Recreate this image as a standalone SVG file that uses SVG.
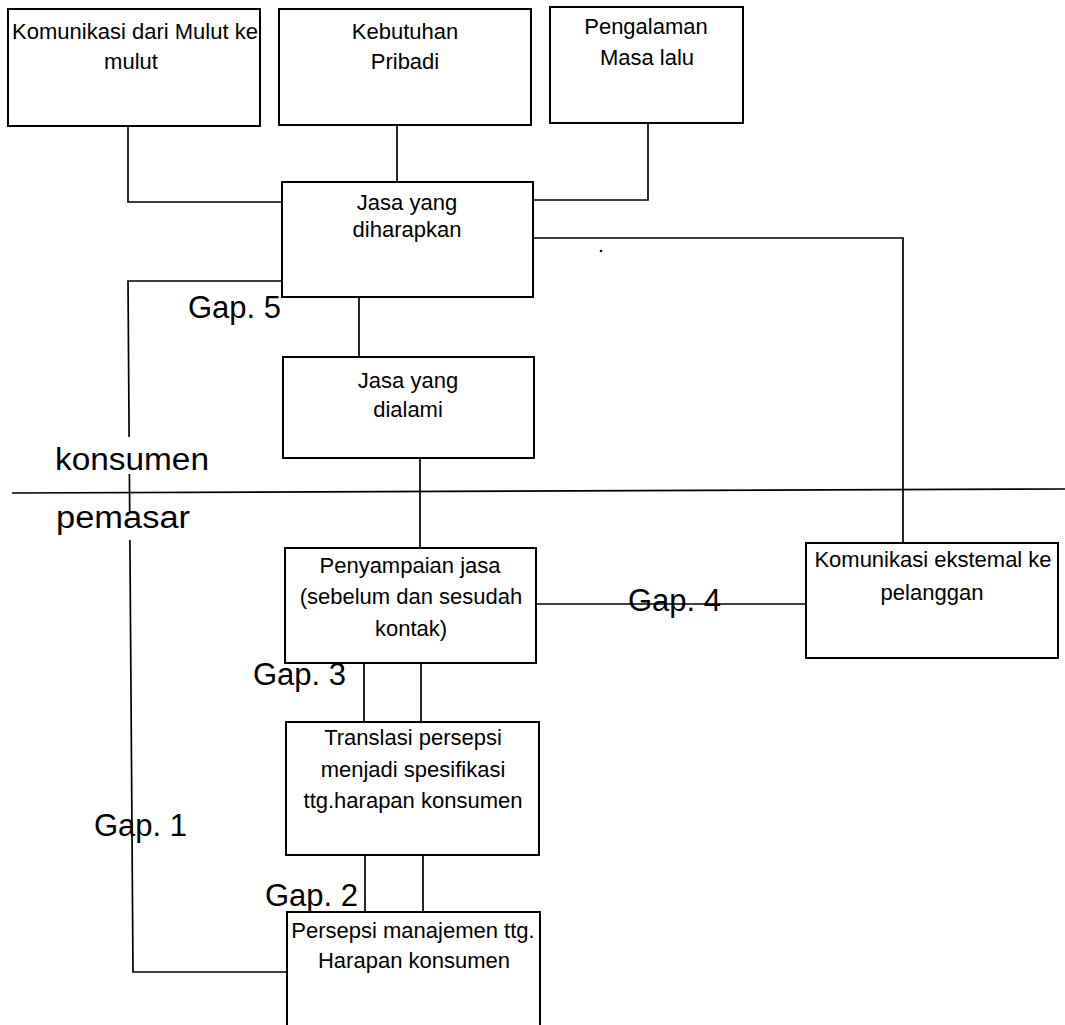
<svg xmlns="http://www.w3.org/2000/svg" width="1065" height="1025" viewBox="0 0 1065 1025">
<style>
.box{fill:#fff;stroke:#000;stroke-width:2}
.ln{fill:none;stroke:#000;stroke-width:1.7}
.t{font-family:"Liberation Sans",Arial,sans-serif;font-size:22px;fill:#000;text-anchor:middle}
.g{font-family:"Liberation Sans",Arial,sans-serif;font-size:31px;fill:#000}
</style>
<rect width="1065" height="1025" fill="#fff"/>
<g id="connectors">
<polyline class="ln" points="128,127 128,202 282,202"/>
<line class="ln" x1="397" y1="126" x2="397" y2="182"/>
<polyline class="ln" points="648,123 648,200 533,200"/>
<polyline class="ln" points="533,238 903,238 903,543"/>
<line class="ln" x1="359" y1="297" x2="359" y2="357"/>
<line class="ln" x1="420" y1="458" x2="420" y2="548"/>
<line class="ln" x1="364" y1="663" x2="364" y2="722"/>
<line class="ln" x1="421" y1="663" x2="421" y2="722"/>
<line class="ln" x1="365" y1="855" x2="365" y2="912"/>
<line class="ln" x1="423" y1="855" x2="423" y2="912"/>
<line class="ln" x1="536" y1="604" x2="806" y2="604"/>
<polyline class="ln" points="282,281 128,281 129.1,437"/>
<line class="ln" x1="129.4" y1="474" x2="129.7" y2="512"/>
<polyline class="ln" points="129.9,540 133,972 287,972"/>
<line class="ln" x1="12" y1="493" x2="1065" y2="489"/>
<circle cx="601" cy="251" r="1.3" fill="#000"/>
</g>
<g id="n1"><rect class="box" x="8" y="9" width="252" height="117"/>
<text class="t" x="135" y="39">Komunikasi dari Mulut ke</text><text class="t" x="131" y="69">mulut</text></g>
<g id="n2"><rect class="box" x="279" y="9" width="252" height="116"/>
<text class="t" x="405" y="39">Kebutuhan</text><text class="t" x="405" y="69">Pribadi</text></g>
<g id="n3"><rect class="box" x="550" y="7" width="193" height="116"/>
<text class="t" x="646" y="34">Pengalaman</text><text class="t" x="647" y="65">Masa lalu</text></g>
<g id="n4"><rect class="box" x="282" y="182" width="251" height="115"/>
<text class="t" x="407" y="210">Jasa yang</text><text class="t" x="407" y="237">diharapkan</text></g>
<g id="n5"><rect class="box" x="283" y="357" width="251" height="101"/>
<text class="t" x="408" y="388">Jasa yang</text><text class="t" x="408" y="417">dialami</text></g>
<g id="n6"><rect class="box" x="285" y="548" width="251" height="115"/>
<text class="t" x="410" y="573">Penyampaian jasa</text><text class="t" x="411" y="604">(sebelum dan sesudah</text><text class="t" x="411" y="636">kontak)</text></g>
<g id="n7"><rect class="box" x="286" y="722" width="253" height="133"/>
<text class="t" x="413" y="745">Translasi persepsi</text><text class="t" x="413" y="777">menjadi spesifikasi</text><text class="t" x="413" y="808">ttg.harapan konsumen</text></g>
<g id="n8"><rect class="box" x="287" y="912" width="253" height="130"/>
<text class="t" x="413" y="938">Persepsi manajemen ttg.</text><text class="t" x="414" y="968">Harapan konsumen</text></g>
<g id="n9"><rect class="box" x="806" y="543" width="252" height="115"/>
<text class="t" x="933" y="567">Komunikasi ekstemal ke</text><text class="t" x="932" y="600">pelanggan</text></g>
<g id="labels">
<text class="g" x="188" y="318">Gap. 5</text>
<text class="g" x="55" y="470" textLength="154" lengthAdjust="spacingAndGlyphs">konsumen</text>
<text class="g" x="56" y="528" textLength="134" lengthAdjust="spacingAndGlyphs">pemasar</text>
<text class="g" x="628" y="611">Gap. 4</text>
<text class="g" x="253" y="685">Gap. 3</text>
<text class="g" x="94" y="836">Gap. 1</text>
<text class="g" x="265" y="906">Gap. 2</text>
</g>
</svg>
